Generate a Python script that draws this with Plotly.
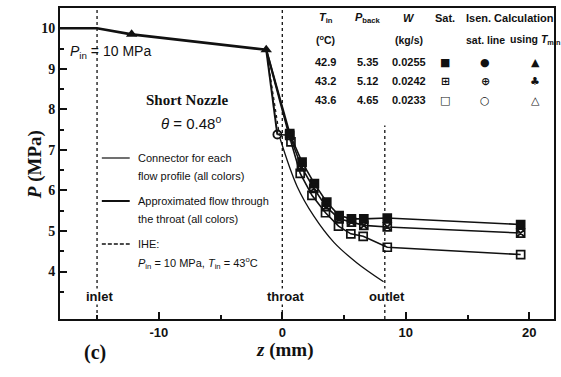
import plotly.graph_objects as go

# ---------------- data ----------------
z_up = [-18.0, -15.0, -12.2, -1.3]
p_up = [10.0, 10.0, 9.85, 9.47]

z_circle = [-0.4]
p_circle = [7.38]

z_filled = [0.6, 1.6, 2.6, 3.6, 4.6, 5.6, 6.6, 8.5, 19.3]
p_filled = [7.40, 6.70, 6.17, 5.71, 5.38, 5.30, 5.30, 5.32, 5.16]

z_cross = [0.6, 1.55, 2.55, 3.55, 4.6, 5.6, 6.6, 8.5, 19.3]
p_cross = [7.36, 6.58, 6.05, 5.60, 5.30, 5.22, 5.14, 5.10, 4.95]

z_open = [0.7, 1.45, 2.4, 3.5, 4.55, 5.55, 6.55, 8.5, 19.3]
p_open = [7.20, 6.42, 5.88, 5.45, 5.12, 4.93, 4.87, 4.60, 4.42]

z_ihe = [-0.2, 1.2, 2.57, 4.18, 6.02, 8.2]
p_ihe = [7.30, 6.10, 5.36, 4.72, 4.22, 3.75]

z_inlet, z_throat, z_outlet = -15.0, 0.0, 8.3
p_outlet_top = 7.6

x_ticks = [-10, 0, 10, 20]
x_ticktext = ["-10", "0", "10", "20"]
y_ticks = [4, 5, 6, 7, 8, 9, 10]

table_header = ["<i>T</i><sub>in</sub>", "<i>P</i><sub>back</sub>", "<i>W</i>", "Sat.", "Isen. Calculation"]
table_units = ["(<sup>o</sup>C)", "(kg/s)", "sat. line", "using <i>T</i><sub>min</sub>"]
T_in = ["42.9", "43.2", "43.6"]
P_back = ["5.35", "5.12", "4.65"]
W_flow = ["0.0255", "0.0242", "0.0233"]
sat_sym = ["■", "⊞", "□"]
sat_line_sym = ["●", "⊕", "○"]
tmin_sym = ["▲", "♣", "△"]

# ---------------- layout helpers ----------------
W, H = 561, 377
L, R, T, B = 60, 5, 8, 58
PW, PH = W - L - R, H - T - B


def px(x):
    return (x - L) / PW


def py(y):
    return (H - B - y) / PH


SERIF = "Liberation Serif"
SANS = "Liberation Sans"
BLACK = "#111111"

fig = go.Figure()

# dotted location lines (drawn first so labels can cover them)
for zx in [z_inlet, z_throat]:
    fig.add_shape(type="line", x0=zx, x1=zx, y0=2.83, y1=10.5, xref="x", yref="y", layer="below",
                  line=dict(color=BLACK, width=1.3, dash="dot"))
fig.add_shape(type="line", x0=z_outlet, x1=z_outlet, y0=2.83, y1=p_outlet_top, xref="x", yref="y",
              layer="below", line=dict(color=BLACK, width=1.3, dash="dot"))

# upstream (shared) profile
fig.add_trace(go.Scatter(x=z_up, y=p_up, mode="lines",
                         line=dict(color=BLACK, width=2.6), hoverinfo="skip"))
fig.add_trace(go.Scatter(x=z_up[2:], y=p_up[2:], mode="markers",
                         marker=dict(symbol="triangle-up", size=10, color=BLACK),
                         hoverinfo="skip"))

# approximated flow through throat
for zz, pp in [(z_circle[0], p_circle[0]), (z_filled[0], p_filled[0]), (z_open[0], p_open[0])]:
    fig.add_trace(go.Scatter(x=[z_up[-1], zz], y=[p_up[-1], pp], mode="lines",
                             line=dict(color=BLACK, width=2), hoverinfo="skip"))
# IHE
fig.add_trace(go.Scatter(x=[z_up[-1], z_ihe[0]], y=[p_up[-1], p_ihe[0]], mode="lines",
                         line=dict(color=BLACK, width=1.2, dash="dot"), hoverinfo="skip"))
fig.add_trace(go.Scatter(x=z_ihe, y=p_ihe, mode="lines", line_shape="spline",
                         line=dict(color=BLACK, width=1.3), hoverinfo="skip"))

# circle -> first points
fig.add_trace(go.Scatter(x=[z_circle[0], z_cross[0]], y=[p_circle[0], p_cross[0]], mode="lines",
                         line=dict(color=BLACK, width=1.5), hoverinfo="skip"))
fig.add_trace(go.Scatter(x=z_circle, y=p_circle, mode="markers",
                         marker=dict(symbol="circle-open", size=8, color=BLACK, line=dict(width=1.8)),
                         hoverinfo="skip"))

# three flow profiles
for zs, ps, sym in [(z_filled, p_filled, "square"),
                    (z_cross, p_cross, "square-x-open"),
                    (z_open, p_open, "square-open")]:
    fig.add_trace(go.Scatter(x=zs, y=ps, mode="lines+markers",
                             line=dict(color=BLACK, width=1.6),
                             marker=dict(symbol=sym, size=8, color=BLACK, line=dict(width=1.7, color=BLACK)),
                             hoverinfo="skip"))

ann = []


def text(x, y, s, size=12, font=SANS, xanchor="center", bold=False, bg=None):
    d = dict(x=px(x), y=py(y), xref="paper", yref="paper", text=s, showarrow=False,
             xanchor=xanchor, yanchor="middle",
             font=dict(family=font, size=size, color=BLACK, weight="bold" if bold else "normal"))
    if bg:
        d["bgcolor"] = bg
        d["borderpad"] = 0
    ann.append(d)


# location labels
text(100, 296, "inlet", 13, SANS, bold=True, bg="white")
text(287, 296, "throat", 13, SANS, bold=True, bg="white")
text(388, 296, "outlet", 13, SANS, bold=True, bg="white")

# annotations in plot
text(68, 52, "<i>P</i><sub>in</sub> = 10 MPa", 14, SANS, xanchor="left")
text(188, 100, "Short Nozzle", 15, SERIF, bold=True)
text(192, 122, "<i>θ</i> = 0.48<sup>o</sup>", 15, SANS)

# legend text
text(136, 158, "Connector for each", 11, SANS, xanchor="left")
text(136, 176, "flow profile (all colors)", 11, SANS, xanchor="left")
text(136, 201, "Approximated flow through", 11, SANS, xanchor="left")
text(136, 219, "the throat (all colors)", 11, SANS, xanchor="left")
text(136, 244, "IHE:", 11, SANS, xanchor="left")
text(136, 263, "<i>P</i><sub>in</sub> = 10 MPa, <i>T</i><sub>in</sub> = 43<sup>o</sup>C", 11, SANS, xanchor="left")

for y0, dash, wdt in [(158, "solid", 1.2), (201, "solid", 2.0), (244, "4px,2px", 1.3)]:
    fig.add_shape(type="line", x0=px(102), x1=px(130), y0=py(y0), y1=py(y0), xref="paper", yref="paper",
                  line=dict(color=BLACK, width=wdt, dash=dash))

# table
cols = [327, 369, 410, 447, 512]
for cx, s in zip(cols, table_header):
    text(cx, 18, s, 11, SANS, bold=True)
for cx, s in zip([327, 410, 487, 537], table_units):
    text(cx, 40, s, 10.5, SANS, bold=True)
rows_y = [62, 81, 100]
for i, ry in enumerate(rows_y):
    text(327, ry, T_in[i], 11, SANS, bold=True)
    text(369, ry, P_back[i], 11, SANS, bold=True)
    text(410, ry, W_flow[i], 11, SANS, bold=True)
    text(447, ry, sat_sym[i], 11, "DejaVu Sans", bold=True)
    text(487, ry, sat_line_sym[i], 11, "DejaVu Sans", bold=True)
    text(537, ry, tmin_sym[i], 11, "DejaVu Sans", bold=True)

# axis titles
text(95, 352, "(c)", 20, SERIF, bold=True)
text(285, 350, "<i>z</i> (mm)", 19, SERIF, bold=True)
ann.append(dict(x=px(22), y=py(165), xref="paper", yref="paper", text="<i>P</i> (MPa)", showarrow=False,
                textangle=-90, font=dict(family=SERIF, size=19, color=BLACK, weight="bold")))

fig.update_layout(
    width=W, height=H, margin=dict(l=L, r=R, t=T, b=B),
    paper_bgcolor="white", plot_bgcolor="white", showlegend=False,
    annotations=ann,
    xaxis=dict(range=[-18, 22], tickvals=x_ticks, ticktext=x_ticktext, ticks="inside", ticklen=7,
               tickwidth=2, tickcolor=BLACK, showgrid=False, zeroline=False, showline=True, linewidth=2,
               linecolor=BLACK, mirror=True,
               tickfont=dict(family=SANS, size=13, color=BLACK, weight="bold"),
               minor=dict(tickvals=[-15, -5, 5, 15], ticks="inside", ticklen=4, tickwidth=1.5, tickcolor=BLACK)),
    yaxis=dict(range=[2.83, 10.5], tickvals=y_ticks, ticks="inside", ticklen=7, tickwidth=2,
               tickcolor=BLACK, showgrid=False, zeroline=False, showline=True, linewidth=2,
               linecolor=BLACK, mirror=True,
               tickfont=dict(family=SERIF, size=14, color=BLACK, weight="bold"),
               minor=dict(tickvals=[3.5, 4.5, 5.5, 6.5, 7.5, 8.5, 9.5], ticks="inside", ticklen=4,
                          tickwidth=1.5, tickcolor=BLACK)),
)

fig.write_html("out.html")
